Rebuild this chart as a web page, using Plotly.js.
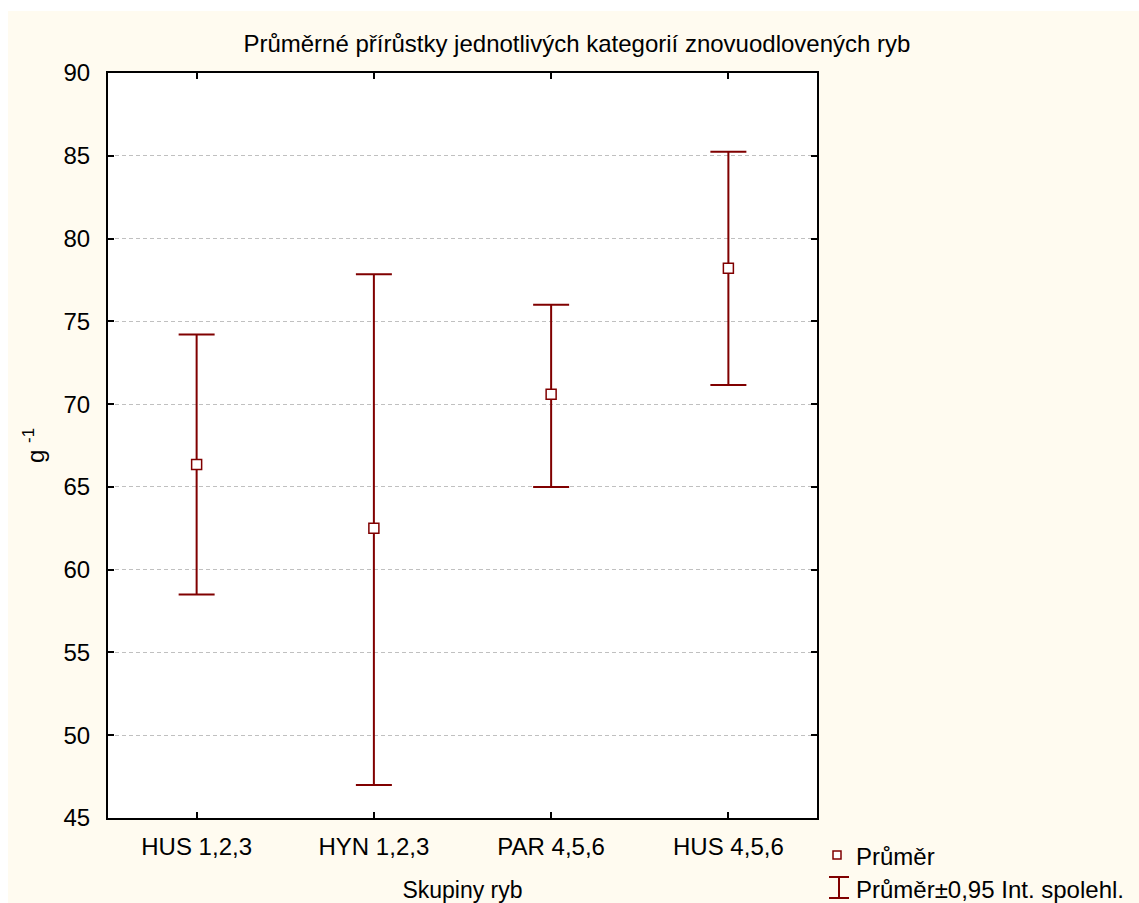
<!DOCTYPE html>
<html>
<head>
<meta charset="utf-8">
<script src="https://cdn.plot.ly/plotly-3.0.1.min.js"></script>
<style>
html,body{margin:0;padding:0;background:#ffffff;width:1139px;height:903px;overflow:hidden;}
#chart{position:absolute;left:8px;top:11px;width:1131px;height:892px;}
</style>
</head>
<body>
<div id="chart"></div>
<script>
// Data
const categories = ['HUS 1,2,3', 'HYN 1,2,3', 'PAR 4,5,6', 'HUS 4,5,6'];
const means = [66.35, 62.5, 70.6, 78.2];
const upperCI = [74.2, 77.85, 76.0, 85.25];
const lowerCI = [58.5, 47.0, 65.0, 71.15];
const yTicks = [45, 50, 55, 60, 65, 70, 75, 80, 85, 90];

const errPlus = means.map((m, i) => upperCI[i] - m);
const errMinus = means.map((m, i) => m - lowerCI[i]);

const FONT = 'Liberation Sans, Arial, sans-serif';
const RED = '#800000';

// plot-area geometry in page pixels (for legend placement helpers)
const PL = 108, PR = 817, PT = 73, PB = 818;
const px = X => (X - PL) / (PR - PL);
const py = Y => (PB - Y) / (PB - PT);

const trace = {
  type: 'scatter',
  mode: 'markers',
  x: categories,
  y: means,
  name: 'Průměr',
  showlegend: false,
  marker: {symbol: 'square', size: 10, color: '#ffffff', line: {color: RED, width: 1.5}},
  error_y: {
    type: 'data', symmetric: false,
    array: errPlus, arrayminus: errMinus,
    color: RED, thickness: 2, width: 18
  },
  hoverinfo: 'x+y'
};

const layout = {
  width: 1131, height: 892,
  paper_bgcolor: '#FFFBF0',
  plot_bgcolor: '#ffffff',
  margin: {l: 100, r: 322, t: 62, b: 85},
  font: {family: FONT, color: '#000000', size: 24},
  showlegend: false,
  title: {
    text: 'Průměrné přírůstky jednotlivých kategorií znovuodlovených ryb',
    font: {family: FONT, size: 24, color: '#000000'},
    x: 0.503, xref: 'container', xanchor: 'center',
    y: 0.964, yref: 'container', yanchor: 'middle'
  },
  xaxis: {
    type: 'category',
    range: [-0.5, 3.5],
    showgrid: false, zeroline: false,
    showline: true, linecolor: '#000000', linewidth: 2, mirror: 'ticks',
    ticks: 'inside', ticklen: 6, tickwidth: 2, tickcolor: '#000000',
    tickfont: {family: FONT, size: 24},
    ticklabelstandoff: 6,
    title: {text: 'Skupiny ryb', font: {family: FONT, size: 23}, standoff: 29},
    fixedrange: true
  },
  yaxis: {
    range: [45, 90],
    tickvals: yTicks,
    ticktext: yTicks.map(String),
    showgrid: true, gridcolor: '#c0c0c0', gridwidth: 1, griddash: '4px,3px',
    zeroline: false,
    showline: true, linecolor: '#000000', linewidth: 2, mirror: 'ticks',
    ticks: 'inside', ticklen: 6, tickwidth: 2, tickcolor: '#000000',
    tickfont: {family: FONT, size: 24},
    ticklabelstandoff: 11,
    title: {text: 'g <sup>-1</sup>', font: {family: FONT, size: 24}, standoff: 12},
    fixedrange: true
  },
  shapes: [
    // legend: open square
    {type: 'rect', xref: 'paper', yref: 'paper', x0: px(833), x1: px(841), y0: py(859), y1: py(851),
     line: {color: RED, width: 1.5}, fillcolor: '#ffffff'},
    // legend: I-shaped error bar symbol
    {type: 'line', xref: 'paper', yref: 'paper', x0: px(839), x1: px(839), y0: py(898), y1: py(877),
     line: {color: RED, width: 2}},
    {type: 'line', xref: 'paper', yref: 'paper', x0: px(829), x1: px(849), y0: py(877), y1: py(877),
     line: {color: RED, width: 2}},
    {type: 'line', xref: 'paper', yref: 'paper', x0: px(829), x1: px(849), y0: py(898), y1: py(898),
     line: {color: RED, width: 2}}
  ],
  annotations: [
    {text: 'Průměr', xref: 'paper', yref: 'paper', x: px(854), y: py(856),
     xanchor: 'left', yanchor: 'middle', showarrow: false, font: {family: FONT, size: 24}},
    {text: 'Průměr±0,95 Int. spolehl.', xref: 'paper', yref: 'paper', x: px(854), y: py(889),
     xanchor: 'left', yanchor: 'middle', showarrow: false, font: {family: FONT, size: 24}}
  ]
};

Plotly.newPlot('chart', [trace], layout, {displayModeBar: false, staticPlot: true});
</script>
</body>
</html>
